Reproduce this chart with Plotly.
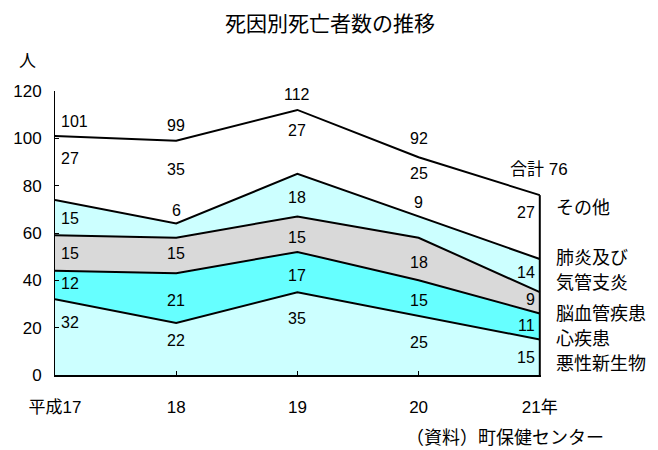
import plotly.graph_objects as go

# --- data -------------------------------------------------------------
years = ["平成17", "18", "19", "20", "21年"]
causes = ["悪性新生物", "心疾患", "脳血管疾患", "肺炎及び気管支炎", "その他"]
malignant = [32, 22, 35, 25, 15]
heart = [12, 21, 17, 15, 11]
cerebro = [15, 15, 15, 18, 9]
pneumonia = [15, 6, 18, 9, 14]
other = [27, 35, 27, 25, 27]
totals = [101, 99, 112, 92, 76]

series = [malignant, heart, cerebro, pneumonia, other]

# --- styling / label placement ---------------------------------------
fills = ["#CCFFFF", "#66FFFF", "#D9D9D9", "#CCFFFF", "#FFFFFF"]
# vertical position (in axis units) of each value label, per series/year
label_y = [
    [22.3, 14.7, 24.0, 13.9, 7.6],
    [38.7, 31.5, 42.0, 31.5, 21.0],
    [51.3, 51.3, 58.0, 47.5, 31.9],
    [66.0, 69.3, 75.0, 73.0, 43.3],
    [91.6, 87.0, 103.4, 85.3, 68.5],
]
total_label_y = [107.1, 105.5, 118.5, 100.0, 87.0]
# right-hand category captions: (text, y)
side_labels = [
    ("その他", 71.4),
    ("肺炎及び", 50.4),
    ("気管支炎", 39.9),
    ("脳血管疾患", 26.5),
    ("心疾患", 16.0),
    ("悪性新生物", 5.5),
]

FONT = "Liberation Sans, Arial, Noto Sans CJK JP, sans-serif"
CJK = "Noto Sans CJK JP, Liberation Sans, sans-serif"

xs = list(range(len(years)))

fig = go.Figure()
for name, vals, col in zip(causes, series, fills):
    fig.add_trace(go.Scatter(
        x=xs, y=vals, name=name, stackgroup="deaths",
        mode="lines", fillcolor=col,
        line=dict(color="black", width=2), hoverinfo="skip",
    ))

# right-hand edge of the stacked area
fig.add_trace(go.Scatter(
    x=[xs[-1], xs[-1]], y=[0, totals[-1]], mode="lines",
    line=dict(color="black", width=2), hoverinfo="skip",
))

annotations = []
last = len(xs) - 1
for vals, ys in zip(series, label_y):
    for i, (v, yv) in enumerate(zip(vals, ys)):
        if i == 0:
            anchor, shift = "left", 4
        elif i == last:
            anchor, shift = "right", -3
        else:
            anchor, shift = "center", 0
        annotations.append(dict(
            x=xs[i], y=yv, xref="x", yref="y", text=str(v),
            showarrow=False, xanchor=anchor, xshift=shift,
            font=dict(family=FONT, size=16, color="black"),
        ))

for i, (t, yv) in enumerate(zip(totals, total_label_y)):
    if i == last:
        annotations.append(dict(
            x=xs[i], y=yv, xref="x", yref="y", text=f"合計 {t}",
            showarrow=False, xanchor="left", xshift=-32,
            font=dict(family=FONT, size=17, color="black"),
        ))
        continue
    anchor, shift = ("left", 4) if i == 0 else ("center", 0)
    annotations.append(dict(
        x=xs[i], y=yv, xref="x", yref="y", text=str(t),
        showarrow=False, xanchor=anchor, xshift=shift,
        font=dict(family=FONT, size=16, color="black"),
    ))

for text, yv in side_labels:
    annotations.append(dict(
        x=xs[-1], y=yv, xref="x", yref="y", text=text,
        showarrow=False, xanchor="left", xshift=14, align="left",
        font=dict(family=CJK, size=18, color="black"),
    ))

# unit label and source note
annotations.append(dict(
    x=-0.056, y=1.11, xref="paper", yref="paper", text="人",
    showarrow=False, xanchor="center", yanchor="middle",
    font=dict(family=CJK, size=17, color="black"),
))
annotations.append(dict(
    x=0.718, y=-0.216, xref="paper", yref="paper", text="（資料）町保健センター",
    showarrow=False, xanchor="left", yanchor="middle",
    font=dict(family=CJK, size=18, color="black"),
))

fig.update_layout(
    width=658, height=450,
    margin=dict(l=55, r=117, t=91, b=75),
    paper_bgcolor="white", plot_bgcolor="white",
    showlegend=False,
    title=dict(
        text="死因別死亡者数の推移", x=330 / 658, xanchor="center",
        y=1 - 24 / 450, yanchor="middle",
        font=dict(family=CJK, size=21, color="black"),
    ),
    annotations=annotations,
    xaxis=dict(
        range=[0, 4.01], tickvals=xs, ticktext=years,
        ticks="inside", ticklen=4, tickcolor="black",
        showline=True, linecolor="black", linewidth=2,
        showgrid=False, zeroline=False, ticklabelstandoff=16,
        tickfont=dict(family=FONT, size=17, color="black"),
    ),
    yaxis=dict(
        range=[0, 120], tickvals=list(range(0, 121, 20)),
        ticks="inside", ticklen=4, tickcolor="black",
        showline=True, linecolor="black", linewidth=1,
        showgrid=False, zeroline=False, ticklabelstandoff=9,
        tickfont=dict(family=FONT, size=17, color="black"),
    ),
)

fig.write_html("out.html")
